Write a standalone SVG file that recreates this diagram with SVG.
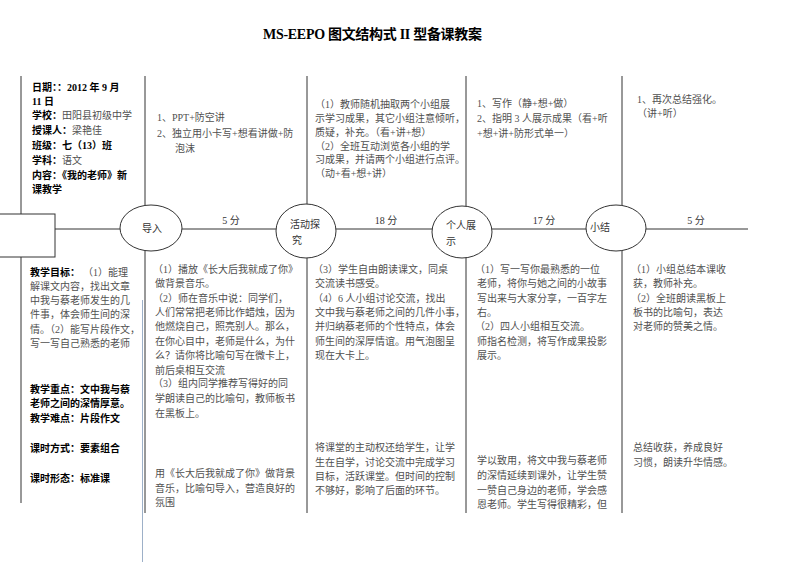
<svg xmlns="http://www.w3.org/2000/svg" width="800" height="566" viewBox="0 0 800 566">
<style>
.t{font-family:"Liberation Serif","Noto Sans CJK SC",serif;font-size:10px;fill:#505050;}
.b{font-weight:bold;fill:#000;}
.ti{font-family:"Liberation Serif","Noto Sans CJK SC",serif;font-size:14px;font-weight:bold;fill:#000;}
.ln{stroke:#333;stroke-width:1;fill:none;}
.nd{stroke:#333;stroke-width:1;fill:#fff;}
.lb{font-family:"Liberation Serif","Noto Sans CJK SC",serif;font-size:10px;fill:#333;}
</style>
<rect width="800" height="566" fill="#fff"/>
<text class="ti" x="372.5" y="39" text-anchor="middle" textLength="219" lengthAdjust="spacing">MS-EEPO 图文结构式 II 型备课教案</text>

<g id="connectors">
  <line class="ln" x1="21" y1="76" x2="21" y2="214"/>
  <line class="ln" x1="21" y1="257" x2="21" y2="503"/>
  <line class="ln" x1="145" y1="76" x2="145" y2="513"/>
  <line class="ln" x1="307" y1="76" x2="307" y2="513"/>
  <line class="ln" x1="466" y1="76" x2="466" y2="513"/>
  <line class="ln" x1="622" y1="76" x2="622" y2="513"/>
  <line class="ln" x1="55" y1="229" x2="748" y2="229"/>
  <line x1="142.5" y1="300" x2="142.5" y2="562" stroke="#9db0c8" stroke-width="1"/>
</g>

<g id="box-start"><rect class="nd" x="-1" y="214" width="56" height="43"/></g>

<g id="node-daoru">
  <ellipse class="nd" cx="151" cy="228" rx="31" ry="23"/>
  <text class="lb" x="142" y="231.5">导入</text>
</g>
<g id="node-huodong">
  <ellipse class="nd" cx="306" cy="231" rx="30" ry="27"/>
  <text class="lb" x="290" y="228">活动探</text>
  <text class="lb" x="292" y="244">究</text>
</g>
<g id="node-geren">
  <ellipse class="nd" cx="462" cy="232" rx="30" ry="26"/>
  <text class="lb" x="446" y="229">个人展</text>
  <text class="lb" x="446" y="245">示</text>
</g>
<g id="node-xiaojie">
  <ellipse class="nd" cx="616" cy="228" rx="30" ry="23"/>
  <text class="lb" x="590" y="231">小结</text>
</g>

<g id="times">
  <text class="lb" x="231" y="224" text-anchor="middle">5 分</text>
  <text class="lb" x="386" y="224" text-anchor="middle">18 分</text>
  <text class="lb" x="544" y="224" text-anchor="middle">17 分</text>
  <text class="lb" x="696" y="224" text-anchor="middle">5 分</text>
</g>

<g id="info-top">
  <text class="t b" x="32" y="90.5">日期：：2012 年 9 月</text>
  <text class="t b" x="32" y="104.5">11 日</text>
  <text class="t" x="32" y="119"><tspan class="b">学校：</tspan>田阳县初级中学</text>
  <text class="t" x="32" y="134"><tspan class="b">授课人：</tspan>梁艳佳</text>
  <text class="t b" x="32" y="149">班级：七（13）班</text>
  <text class="t" x="32" y="163.5"><tspan class="b">学科：</tspan>语文</text>
  <text class="t b" x="32" y="178.5">内容：《我的老师》新</text>
  <text class="t b" x="32" y="193">课教学</text>
</g>

<g id="col2-top">
  <text class="t" x="157" y="121">1、PPT+防空讲</text>
  <text class="t" x="157" y="136.5">2、独立用小卡写+想看讲做+防</text>
  <text class="t" x="175" y="152">泡沫</text>
</g>
<g id="col3-top">
  <text class="t" x="315" y="108">（1）教师随机抽取两个小组展</text>
  <text class="t" x="315" y="121.5">示学习成果，其它小组注意倾听，</text>
  <text class="t" x="315" y="135.5">质疑，补充。（看+讲+想）</text>
  <text class="t" x="315" y="149.5">（2）全班互动浏览各小组的学</text>
  <text class="t" x="315" y="163">习成果，并请两个小组进行点评。</text>
  <text class="t" x="315" y="177">（动+看+想+讲）</text>
</g>
<g id="col4-top">
  <text class="t" x="477" y="106.5">1、写作（静+想+做）</text>
  <text class="t" x="477" y="121.5">2、指明 3 人展示成果（看+听</text>
  <text class="t" x="477" y="136.5">+想+讲+防形式单一）</text>
</g>
<g id="col5-top">
  <text class="t" x="637" y="103">1、再次总结强化。</text>
  <text class="t" x="637" y="116.5">（讲+听）</text>
</g>

<g id="info-bottom">
  <text class="t" x="30" y="275.5"><tspan class="b">教学目标：</tspan><tspan x="83">（1）能理</tspan></text>
  <text class="t" x="30" y="289.5">解课文内容，找出文章</text>
  <text class="t" x="30" y="303.5">中我与蔡老师发生的几</text>
  <text class="t" x="30" y="317.5">件事，体会师生间的深</text>
  <text class="t" x="30" y="332.5">情。（2）能写片段作文，</text>
  <text class="t" x="30" y="346.5">写一写自己熟悉的老师</text>
  <text class="t b" x="30" y="392.5">教学重点：文中我与蔡</text>
  <text class="t b" x="30" y="406.5">老师之间的深情厚意。</text>
  <text class="t b" x="30" y="421.5">教学难点：片段作文</text>
  <text class="t b" x="30" y="451.5">课时方式：要素组合</text>
  <text class="t b" x="30" y="481.5">课时形态：标准课</text>
</g>

<g id="col2-bottom">
  <text class="t" x="153" y="272.5">（1）播放《长大后我就成了你》</text>
  <text class="t" x="155" y="286.5">做背景音乐。</text>
  <text class="t" x="153" y="301.5">（2）师在音乐中说：同学们，</text>
  <text class="t" x="155" y="315.5">人们常常把老师比作蜡烛，因为</text>
  <text class="t" x="155" y="329.5">他燃烧自己，照亮别人。那么，</text>
  <text class="t" x="155" y="344.5">在你心目中，老师是什么，为什</text>
  <text class="t" x="155" y="358.5">么？请你将比喻句写在微卡上，</text>
  <text class="t" x="155" y="373.5">前后桌相互交流</text>
  <text class="t" x="153" y="387">（3）组内同学推荐写得好的同</text>
  <text class="t" x="155" y="401.5">学朗读自己的比喻句，教师板书</text>
  <text class="t" x="155" y="416.5">在黑板上。</text>
  <text class="t" x="155" y="476.5">用《长大后我就成了你》做背景</text>
  <text class="t" x="155" y="491.5">音乐，比喻句导入，营造良好的</text>
  <text class="t" x="155" y="506">氛围</text>
</g>
<g id="col3-bottom">
  <text class="t" x="313" y="272.5">（3）学生自由朗读课文，同桌</text>
  <text class="t" x="315" y="286.5">交流读书感受。</text>
  <text class="t" x="313" y="301.5">（4）6 人小组讨论交流，找出</text>
  <text class="t" x="315" y="315.5">文中我与蔡老师之间的几件小事，</text>
  <text class="t" x="315" y="329.5">并归纳蔡老师的个性特点，体会</text>
  <text class="t" x="315" y="344.5">师生间的深厚情谊。用气泡图呈</text>
  <text class="t" x="315" y="358.5">现在大卡上。</text>
  <text class="t" x="315" y="450.5">将课堂的主动权还给学生，让学</text>
  <text class="t" x="315" y="465.5">生在自学，讨论交流中完成学习</text>
  <text class="t" x="315" y="479.5">目标，活跃课堂。但时间的控制</text>
  <text class="t" x="315" y="493.5">不够好，影响了后面的环节。</text>
</g>
<g id="col4-bottom">
  <text class="t" x="475" y="272.5">（1）写一写你最熟悉的一位</text>
  <text class="t" x="477" y="286.5">老师，将你与她之间的小故事</text>
  <text class="t" x="477" y="301.5">写出来与大家分享，一百字左</text>
  <text class="t" x="477" y="315.5">右。</text>
  <text class="t" x="475" y="329.5">（2）四人小组相互交流。</text>
  <text class="t" x="477" y="344.5">师指名检测，将写作成果投影</text>
  <text class="t" x="477" y="358.5">展示。</text>
  <text class="t" x="477" y="463.5">学以致用，将文中我与蔡老师</text>
  <text class="t" x="477" y="478.5">的深情延续到课外，让学生赞</text>
  <text class="t" x="477" y="493.5">一赞自己身边的老师，学会感</text>
  <text class="t" x="477" y="507.5">恩老师。学生写得很精彩，但</text>
</g>
<g id="col5-bottom">
  <text class="t" x="631" y="272.5">（1）小组总结本课收</text>
  <text class="t" x="633" y="286.5">获，教师补充。</text>
  <text class="t" x="631" y="301.5">（2）全班朗读黑板上</text>
  <text class="t" x="633" y="315.5">板书的比喻句，表达</text>
  <text class="t" x="633" y="329.5">对老师的赞美之情。</text>
  <text class="t" x="633" y="450.5">总结收获，养成良好</text>
  <text class="t" x="633" y="465.5">习惯，朗读升华情感。</text>
</g>
</svg>
